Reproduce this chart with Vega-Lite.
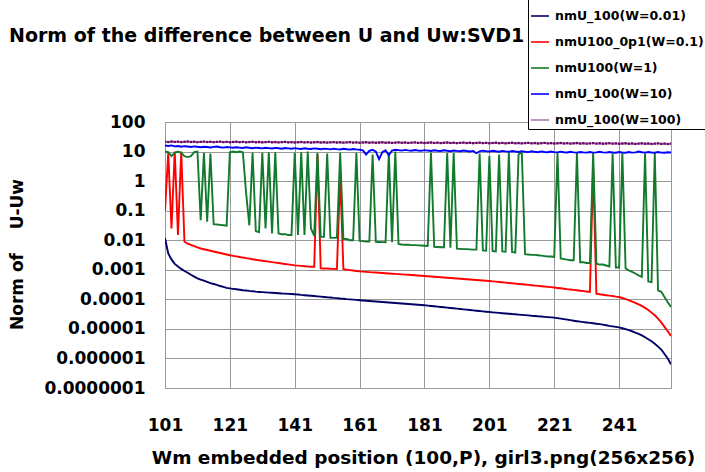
{
  "$schema": "https://vega.github.io/schema/vega-lite/v6.json",
  "width": 506,
  "height": 266,
  "autosize": {"type": "none"},
  "padding": {"left": 165, "top": 122, "right": 34, "bottom": 84},
  "background": "#ffffff",
  "title": {
    "text": "Norm of the difference between U and Uw:SVD1",
    "anchor": "start",
    "frame": "group",
    "font": "DejaVu Sans",
    "fontSize": 19,
    "fontWeight": "bold",
    "color": "#000000",
    "dx": -156,
    "offset": -66.5,
    "baseline": "alphabetic"
  },
  "data": {
    "values": [
      {"x":101,"a":0.0117,"b":0.1,"c":10,"d":16,"e":21.5},
      {"x":102,"a":0.00355,"b":9,"c":9.5,"d":15.5,"e":21.0},
      {"x":103,"a":0.00224,"b":0.025,"c":7,"d":16.2,"e":21.8},
      {"x":104,"a":0.00158,"b":10,"c":9,"d":15,"e":21.2},
      {"x":105,"a":0.00129,"b":0.015,"c":10,"d":15.4,"e":21.6},
      {"x":106,"a":0.00107,"b":10,"c":9,"d":14.6,"e":20.9},
      {"x":107,"a":0.000912,"b":0.0089,"c":7,"d":15.2,"e":21.4},
      {"x":108,"a":0.000794,"b":0.00759,"c":6.5,"d":14.8,"e":21.8},
      {"x":109,"a":0.000676,"b":0.00692,"c":7,"d":14.2,"e":21.1},
      {"x":110,"a":0.000589,"b":0.00631,"c":9.5,"d":14.9,"e":21.5},
      {"x":111,"a":0.000513,"b":0.00575,"c":10,"d":14.5,"e":20.8},
      {"x":112,"a":0.000468,"b":0.00525,"c":0.048,"d":14,"e":21.3},
      {"x":113,"a":0.000427,"b":0.00494,"c":9,"d":14.6,"e":21.7},
      {"x":114,"a":0.000389,"b":0.00467,"c":0.042,"d":14.2,"e":21.0},
      {"x":115,"a":0.000355,"b":0.0044,"c":8.5,"d":13.8,"e":21.4},
      {"x":116,"a":0.000331,"b":0.00415,"c":0.035,"d":14.4,"e":20.8},
      {"x":117,"a":0.000309,"b":0.00391,"c":0.034,"d":14.8,"e":21.2},
      {"x":118,"a":0.000282,"b":0.00369,"c":0.033,"d":14,"e":21.6},
      {"x":119,"a":0.000263,"b":0.00348,"c":0.032,"d":13.6,"e":20.9},
      {"x":120,"a":0.000245,"b":0.00328,"c":0.031,"d":14.2,"e":21.3},
      {"x":121,"a":0.000234,"b":0.00309,"c":9.5,"d":13.8,"e":20.7},
      {"x":122,"a":0.000226,"b":0.00296,"c":10,"d":13.4,"e":21.1},
      {"x":123,"a":0.000219,"b":0.00283,"c":9.5,"d":14,"e":21.5},
      {"x":124,"a":0.000211,"b":0.00271,"c":10,"d":13.6,"e":20.8},
      {"x":125,"a":0.000204,"b":0.00259,"c":9.5,"d":13.2,"e":21.2},
      {"x":126,"a":0.0002,"b":0.00249,"c":0.4,"d":13.9,"e":20.6},
      {"x":127,"a":0.000193,"b":0.00238,"c":0.032,"d":13.4,"e":21.0},
      {"x":128,"a":0.000188,"b":0.00228,"c":9,"d":13,"e":21.4},
      {"x":129,"a":0.000182,"b":0.00218,"c":0.02,"d":13.6,"e":20.7},
      {"x":130,"a":0.000178,"b":0.00209,"c":0.019,"d":13.2,"e":21.1},
      {"x":131,"a":0.000175,"b":0.00202,"c":9,"d":12.8,"e":20.5},
      {"x":132,"a":0.000172,"b":0.00195,"c":0.025,"d":13.5,"e":20.9},
      {"x":133,"a":0.000169,"b":0.00188,"c":9.5,"d":13.1,"e":21.3},
      {"x":134,"a":0.000167,"b":0.00181,"c":0.017,"d":12.7,"e":20.6},
      {"x":135,"a":0.000164,"b":0.00175,"c":9.5,"d":13.3,"e":21.0},
      {"x":136,"a":0.000161,"b":0.00169,"c":0.017,"d":12.9,"e":20.4},
      {"x":137,"a":0.000158,"b":0.00163,"c":0.016,"d":12.5,"e":20.8},
      {"x":138,"a":0.000156,"b":0.00157,"c":0.016,"d":13.2,"e":21.2},
      {"x":139,"a":0.000153,"b":0.00152,"c":0.015,"d":12.8,"e":20.5},
      {"x":140,"a":0.000151,"b":0.00146,"c":0.015,"d":12.4,"e":20.9},
      {"x":141,"a":0.000148,"b":0.00141,"c":9,"d":13,"e":20.3},
      {"x":142,"a":0.000145,"b":0.00138,"c":0.015,"d":12.6,"e":20.7},
      {"x":143,"a":0.000141,"b":0.00135,"c":9.5,"d":12.2,"e":21.1},
      {"x":144,"a":0.000138,"b":0.00132,"c":0.015,"d":12.9,"e":20.4},
      {"x":145,"a":0.000135,"b":0.00129,"c":10,"d":12.5,"e":20.8},
      {"x":146,"a":0.000132,"b":0.00127,"c":0.025,"d":12.2,"e":20.2},
      {"x":147,"a":0.000129,"b":0.00126,"c":0.014,"d":12.8,"e":20.6},
      {"x":148,"a":0.000126,"b":8,"c":9,"d":12.4,"e":21.0},
      {"x":149,"a":0.000123,"b":0.00112,"c":0.013,"d":12,"e":20.3},
      {"x":150,"a":0.00012,"b":0.00111,"c":0.013,"d":12.6,"e":20.7},
      {"x":151,"a":0.000117,"b":0.0011,"c":8.5,"d":12.3,"e":20.1},
      {"x":152,"a":0.000115,"b":0.00108,"c":0.012,"d":11.9,"e":20.5},
      {"x":153,"a":0.000112,"b":0.00107,"c":0.012,"d":12.5,"e":20.9},
      {"x":154,"a":0.00011,"b":0.00106,"c":0.012,"d":12.1,"e":20.2},
      {"x":155,"a":0.000107,"b":1.5,"c":9,"d":11.8,"e":20.6},
      {"x":156,"a":0.000105,"b":0.00105,"c":0.011,"d":12.4,"e":20.0},
      {"x":157,"a":0.000102,"b":0.00101,"c":0.011,"d":12,"e":20.4},
      {"x":158,"a":0.0001,"b":0.000977,"c":0.01,"d":11.6,"e":20.8},
      {"x":159,"a":0.0000977,"b":0.000944,"c":0.01,"d":12.2,"e":20.1},
      {"x":160,"a":0.0000955,"b":0.000912,"c":9,"d":11.8,"e":20.5},
      {"x":161,"a":0.0000933,"b":0.000881,"c":0.0095,"d":11.5,"e":19.9},
      {"x":162,"a":0.0000914,"b":0.000865,"c":0.0093,"d":11,"e":20.3},
      {"x":163,"a":0.0000897,"b":0.000849,"c":0.009,"d":8,"e":20.7},
      {"x":164,"a":0.0000879,"b":0.000836,"c":0.009,"d":10.5,"e":20.0},
      {"x":165,"a":0.0000863,"b":0.00082,"c":8,"d":11.5,"e":20.4},
      {"x":166,"a":0.0000846,"b":0.000805,"c":0.0088,"d":10,"e":19.8},
      {"x":167,"a":0.000083,"b":0.000791,"c":0.0087,"d":5.5,"e":20.2},
      {"x":168,"a":0.0000813,"b":0.000778,"c":0.0086,"d":9.5,"e":20.6},
      {"x":169,"a":0.0000798,"b":0.000764,"c":0.0085,"d":11,"e":19.9},
      {"x":170,"a":0.0000782,"b":0.00075,"c":9,"d":7.5,"e":20.3},
      {"x":171,"a":0.0000767,"b":0.000736,"c":0.0085,"d":10.8,"e":19.7},
      {"x":172,"a":0.0000752,"b":0.000724,"c":10,"d":11.5,"e":20.1},
      {"x":173,"a":0.0000738,"b":0.000711,"c":0.0075,"d":11.2,"e":20.5},
      {"x":174,"a":0.0000723,"b":0.000698,"c":0.0072,"d":10.8,"e":19.8},
      {"x":175,"a":0.000071,"b":0.000686,"c":0.007,"d":11.4,"e":20.2},
      {"x":176,"a":0.0000695,"b":0.000675,"c":0.007,"d":11,"e":19.6},
      {"x":177,"a":0.0000682,"b":0.000662,"c":0.0068,"d":10.7,"e":20.0},
      {"x":178,"a":0.0000668,"b":0.00065,"c":0.0068,"d":11.3,"e":20.4},
      {"x":179,"a":0.0000656,"b":0.000638,"c":0.0067,"d":10.9,"e":19.7},
      {"x":180,"a":0.0000643,"b":0.000628,"c":0.0066,"d":10.6,"e":20.1},
      {"x":181,"a":0.0000631,"b":0.000617,"c":0.0065,"d":11.2,"e":19.5},
      {"x":182,"a":0.0000614,"b":0.000604,"c":0.0064,"d":10.8,"e":19.9},
      {"x":183,"a":0.0000598,"b":0.000593,"c":9,"d":10.5,"e":20.3},
      {"x":184,"a":0.0000582,"b":0.000581,"c":0.006,"d":11.1,"e":19.6},
      {"x":185,"a":0.0000568,"b":0.00057,"c":0.0059,"d":10.7,"e":20.0},
      {"x":186,"a":0.0000552,"b":0.000558,"c":0.0058,"d":10.4,"e":19.4},
      {"x":187,"a":0.0000538,"b":0.000548,"c":0.0058,"d":11,"e":19.8},
      {"x":188,"a":0.0000524,"b":0.000537,"c":9,"d":10.6,"e":20.2},
      {"x":189,"a":0.0000511,"b":0.000527,"c":0.0056,"d":10.3,"e":19.5},
      {"x":190,"a":0.0000497,"b":0.000516,"c":9,"d":10.9,"e":19.9},
      {"x":191,"a":0.0000484,"b":0.000507,"c":0.0052,"d":10.5,"e":19.3},
      {"x":192,"a":0.0000471,"b":0.000497,"c":0.0051,"d":10.2,"e":19.7},
      {"x":193,"a":0.0000459,"b":0.000488,"c":0.005,"d":10.8,"e":20.1},
      {"x":194,"a":0.0000447,"b":0.000478,"c":0.005,"d":10.4,"e":19.4},
      {"x":195,"a":0.0000436,"b":0.000469,"c":0.0049,"d":10.1,"e":19.8},
      {"x":196,"a":0.0000424,"b":0.000459,"c":0.0048,"d":10.5,"e":19.2},
      {"x":197,"a":0.0000413,"b":0.000451,"c":0.0048,"d":8.8,"e":19.6},
      {"x":198,"a":0.0000402,"b":0.000442,"c":8.5,"d":10.2,"e":20.0},
      {"x":199,"a":0.0000392,"b":0.000434,"c":0.0045,"d":10.7,"e":19.3},
      {"x":200,"a":0.0000381,"b":0.000425,"c":0.0044,"d":10.3,"e":19.7},
      {"x":201,"a":0.0000372,"b":0.000417,"c":7,"d":10,"e":19.1},
      {"x":202,"a":0.0000363,"b":0.000406,"c":0.0043,"d":10.6,"e":19.5},
      {"x":203,"a":0.0000356,"b":0.000396,"c":0.0042,"d":10.2,"e":19.9},
      {"x":204,"a":0.0000348,"b":0.000386,"c":8,"d":9.9,"e":19.2},
      {"x":205,"a":0.000034,"b":0.000377,"c":0.0042,"d":10.5,"e":19.6},
      {"x":206,"a":0.0000333,"b":0.000367,"c":0.0041,"d":10.1,"e":19.0},
      {"x":207,"a":0.0000326,"b":0.000358,"c":9,"d":9.8,"e":19.4},
      {"x":208,"a":0.0000318,"b":0.000349,"c":0.004,"d":10.4,"e":19.8},
      {"x":209,"a":0.0000312,"b":0.00034,"c":0.0038,"d":10,"e":19.1},
      {"x":210,"a":0.0000305,"b":0.000332,"c":8,"d":9.7,"e":19.5},
      {"x":211,"a":0.0000299,"b":0.000324,"c":9.5,"d":10.3,"e":18.9},
      {"x":212,"a":0.0000292,"b":0.000316,"c":0.0034,"d":9.9,"e":19.3},
      {"x":213,"a":0.0000286,"b":0.000308,"c":0.0033,"d":9.6,"e":19.7},
      {"x":214,"a":0.0000279,"b":0.0003,"c":0.0032,"d":10.2,"e":19.0},
      {"x":215,"a":0.0000274,"b":0.000292,"c":0.0032,"d":9.8,"e":19.4},
      {"x":216,"a":0.0000267,"b":0.000285,"c":0.0031,"d":9.5,"e":18.8},
      {"x":217,"a":0.0000262,"b":0.000278,"c":0.003,"d":10.1,"e":19.2},
      {"x":218,"a":0.0000256,"b":0.000271,"c":0.0029,"d":9.7,"e":19.6},
      {"x":219,"a":0.0000251,"b":0.000264,"c":0.0028,"d":9.5,"e":18.9},
      {"x":220,"a":0.0000245,"b":0.000258,"c":0.0028,"d":10,"e":19.3},
      {"x":221,"a":0.000024,"b":0.000251,"c":0.0027,"d":9.6,"e":18.7},
      {"x":222,"a":0.0000231,"b":0.000243,"c":9,"d":9.4,"e":19.1},
      {"x":223,"a":0.0000222,"b":0.000236,"c":0.0024,"d":9.9,"e":19.5},
      {"x":224,"a":0.0000213,"b":0.000229,"c":0.0023,"d":9.5,"e":18.8},
      {"x":225,"a":0.0000205,"b":0.000221,"c":0.0022,"d":9.3,"e":19.2},
      {"x":226,"a":0.0000197,"b":0.000215,"c":0.0021,"d":9.8,"e":18.6},
      {"x":227,"a":0.0000189,"b":0.000208,"c":0.0021,"d":9.4,"e":19.0},
      {"x":228,"a":0.0000182,"b":0.000202,"c":9,"d":9.2,"e":19.4},
      {"x":229,"a":0.0000176,"b":0.000195,"c":0.0018,"d":9.7,"e":18.7},
      {"x":230,"a":0.000017,"b":0.000189,"c":0.0018,"d":9.4,"e":19.1},
      {"x":231,"a":0.0000165,"b":0.000184,"c":0.0017,"d":9.2,"e":18.5},
      {"x":232,"a":0.000016,"b":0.000178,"c":0.0017,"d":9.6,"e":18.9},
      {"x":233,"a":0.0000155,"b":3,"c":9,"d":9.2,"e":19.3},
      {"x":234,"a":0.0000149,"b":0.000155,"c":0.0016,"d":9.4,"e":18.6},
      {"x":235,"a":0.0000145,"b":0.000148,"c":0.0015,"d":9.8,"e":19.0},
      {"x":236,"a":0.0000139,"b":0.000143,"c":0.0015,"d":9.4,"e":18.4},
      {"x":237,"a":0.0000133,"b":0.000138,"c":0.0014,"d":9.2,"e":18.8},
      {"x":238,"a":0.0000127,"b":0.000133,"c":0.0013,"d":9.7,"e":19.2},
      {"x":239,"a":0.0000122,"b":0.000129,"c":8.5,"d":9.3,"e":18.5},
      {"x":240,"a":0.0000117,"b":0.000124,"c":0.0012,"d":9.1,"e":18.9},
      {"x":241,"a":0.0000112,"b":0.00012,"c":0.0012,"d":9.6,"e":18.3},
      {"x":242,"a":0.0000105,"b":0.000111,"c":9,"d":9.3,"e":18.7},
      {"x":243,"a":0.00000977,"b":0.000102,"c":0.0011,"d":9.1,"e":19.1},
      {"x":244,"a":0.00000902,"b":0.0000933,"c":0.00095,"d":9.6,"e":18.4},
      {"x":245,"a":0.00000832,"b":0.0000841,"c":0.00085,"d":9.2,"e":18.8},
      {"x":246,"a":0.0000075,"b":0.0000759,"c":0.00075,"d":9.4,"e":18.2},
      {"x":247,"a":0.00000676,"b":0.0000676,"c":0.00065,"d":10,"e":18.6},
      {"x":248,"a":0.00000603,"b":0.0000603,"c":0.00058,"d":9.5,"e":19.0},
      {"x":249,"a":0.00000519,"b":0.0000513,"c":8.5,"d":9.2,"e":18.3},
      {"x":250,"a":0.00000447,"b":0.0000437,"c":0.0004,"d":9.6,"e":18.7},
      {"x":251,"a":0.0000038,"b":0.0000355,"c":0.00038,"d":9.3,"e":18.1},
      {"x":252,"a":0.00000316,"b":0.0000288,"c":9,"d":9.1,"e":18.5},
      {"x":253,"a":0.00000251,"b":0.0000224,"c":0.0002,"d":9.6,"e":18.9},
      {"x":254,"a":0.000002,"b":0.0000166,"c":0.00018,"d":9.2,"e":18.2},
      {"x":255,"a":0.00000141,"b":0.0000117,"c":0.00012,"d":9.1,"e":18.6},
      {"x":256,"a":0.000001,"b":0.00000832,"c":0.00008,"d":9.5,"e":18.0},
      {"x":257,"a":0.00000063,"b":0.00000575,"c":0.000055,"d":9.3,"e":18.4}
    ]
  },
  "transform": [{"fold": ["a", "b", "c", "d", "e"], "as": ["s", "v"]}],
  "encoding": {
    "x": {
      "field": "x",
      "type": "quantitative",
      "scale": {"domain": [101, 257], "nice": false, "zero": false},
      "axis": {
        "values": [101, 121, 141, 161, 181, 201, 221, 241],
        "grid": true,
        "gridColor": "#999999",
        "gridWidth": 1,
        "ticks": false,
        "domain": false,
        "labelFont": "DejaVu Sans",
        "labelFontWeight": "bold",
        "labelFontSize": 17,
        "labelColor": "#000000",
        "labelPadding": 29,
        "labelFlush": false,
        "labelOverlap": false,
        "title": "Wm embedded position (100,P), girl3.png(256x256)",
        "titleFont": "DejaVu Sans",
        "titleFontSize": 18.5,
        "titleFontWeight": "bold",
        "titleColor": "#000000",
        "titleBaseline": "alphabetic",
        "titleX": 258,
        "titleY": 75.5
      }
    },
    "y": {
      "field": "v",
      "type": "quantitative",
      "scale": {"type": "log", "domain": [0.0000001, 100], "nice": false},
      "axis": {
        "values": [0.0000001, 0.000001, 0.00001, 0.0001, 0.001, 0.01, 0.1, 1, 10, 100],
        "format": ".7~f",
        "grid": true,
        "gridColor": "#999999",
        "gridWidth": 1,
        "ticks": false,
        "domain": false,
        "labelFont": "DejaVu Sans",
        "labelFontWeight": "bold",
        "labelFontSize": 17,
        "labelColor": "#000000",
        "labelPadding": 20,
        "labelOverlap": false,
        "labelFlush": false,
        "title": "Norm of\u00a0\u00a0\u00a0\u00a0U-Uw",
        "titleFont": "DejaVu Sans",
        "titleFontSize": 17,
        "titleFontWeight": "bold",
        "titleColor": "#000000",
        "titleBaseline": "middle",
        "titleX": -148,
        "titleY": 132
      }
    },
    "color": {
      "field": "s",
      "type": "nominal",
      "scale": {
        "domain": ["a", "b", "c", "d", "e"],
        "range": ["#000066", "#ff0000", "#127a2c", "#0000ff", "#a97aa9"]
      },
      "legend": {
        "title": " ",
        "titleFontSize": 9,
        "titlePadding": 0,
        "orient": "none",
        "legendX": 363,
        "legendY": -127,
        "direction": "vertical",
        "strokeColor": "#000000",
        "fillColor": "#ffffff",
        "padding": 2,
        "symbolType": "stroke",
        "symbolSize": 324,
        "symbolStrokeWidth": 1.6,
        "rowPadding": 9,
        "labelOffset": 5,
        "labelFont": "DejaVu Sans",
        "labelFontWeight": "bold",
        "labelFontSize": 12.5,
        "labelColor": "#000000",
        "labelLimit": 300,
        "labelExpr": "{'a':'nmU_100(W=0.01)','b':'nmU100_0p1(W=0.1)','c':'nmU100(W=1)','d':'nmU_100(W=10)','e':'nmU_100(W=100)'}[datum.label]"
      }
    }
  },
  "layer": [
    {"mark": {"type": "line", "strokeWidth": 1.9, "clip": true}},
    {
      "transform": [{"filter": "datum.s == 'e'"}],
      "mark": {"type": "point", "shape": "square", "size": 5, "filled": true, "color": "#660066", "opacity": 1, "clip": true},
      "encoding": {"color": {"value": "#660066"}}
    }
  ],
  "config": {
    "view": {"stroke": "#999999", "strokeWidth": 1}
  }
}
